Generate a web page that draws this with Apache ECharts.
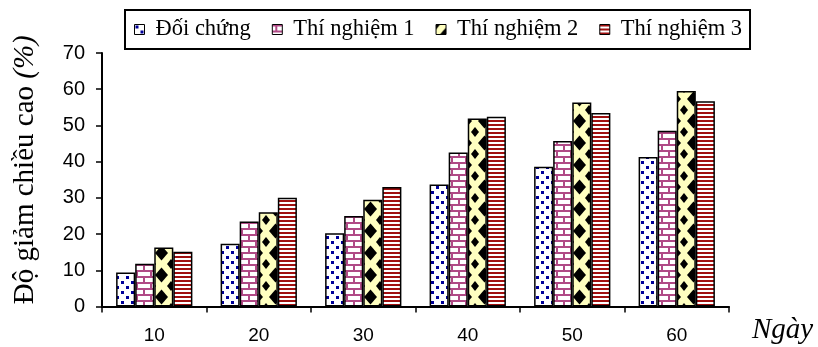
<!DOCTYPE html>
<html>
<head>
<meta charset="utf-8">
<script src="https://cdn.jsdelivr.net/npm/echarts@6/dist/echarts.min.js"></script>
<style>
  html, body { margin: 0; padding: 0; background: #fff; }
  #chart { width: 818px; height: 347px; }
</style>
</head>
<body>
<div id="chart"></div>
<script>
  // du lieu
  const days = ['10', '20', '30', '40', '50', '60'];
  const doiChung = [9.4, 17.3, 20.2, 33.7, 38.6, 41.3];
  const thiNghiem1 = [11.8, 23.5, 25, 42.5, 45.7, 48.5];
  const thiNghiem2 = [16.3, 26, 29.5, 51.9, 56.3, 59.5];
  const thiNghiem3 = [15.1, 30, 33, 52.4, 53.4, 56.7];

  // hoa van cho cot
  function makePattern(w, h, draw) {
    let c = document.createElement('canvas');
    c.width = w; c.height = h;
    let ctx = c.getContext('2d');
    draw(ctx, w, h);
    return { image: c, repeat: 'repeat' };
  }
  // cham xanh
  let dotPat = makePattern(10, 10, (ctx, w, h) => {
    ctx.fillStyle = '#fff'; ctx.fillRect(0, 0, w, h);
    ctx.fillStyle = '#000099';
    ctx.fillRect(1, 1, 3, 3);
    ctx.fillRect(6, 6, 3, 3);
  });
  // gach hong
  let brickPat = makePattern(14, 12, (ctx, w, h) => {
    ctx.fillStyle = '#fff'; ctx.fillRect(0, 0, w, h);
    ctx.fillStyle = '#b04a86';
    ctx.fillRect(0, 0, w, 2);
    ctx.fillRect(0, 6, w, 2);
    ctx.fillRect(3, 0, 2, 6);
    ctx.fillRect(10, 6, 2, 6);
  });
  // hinh thoi den tren nen vang
  function diamond(ctx, cx, cy, rx, ry) {
    ctx.beginPath();
    ctx.moveTo(cx, cy - ry); ctx.lineTo(cx + rx, cy); ctx.lineTo(cx, cy + ry); ctx.lineTo(cx - rx, cy);
    ctx.closePath(); ctx.fill();
  }
  let diamondPat = makePattern(19, 22, (ctx, w, h) => {
    ctx.fillStyle = '#ffffc0'; ctx.fillRect(0, 0, w, h);
    ctx.fillStyle = '#000';
    diamond(ctx, 9.5, 11, 6.5, 7.5);
    diamond(ctx, 0, 0, 4, 5);
    diamond(ctx, w, 0, 4, 5);
    diamond(ctx, 0, h, 4, 5);
    diamond(ctx, w, h, 4, 5);
  });
  // soc ngang do
  let stripePat = makePattern(8, 4, (ctx, w, h) => {
    ctx.fillStyle = '#fff'; ctx.fillRect(0, 0, w, h);
    ctx.fillStyle = '#a01010';
    ctx.fillRect(0, 0, w, 2);
  });

  function barSeries(name, data, pat) {
    return {
      name: name,
      type: 'bar',
      data: data,
      barGap: '0%',
      barCategoryGap: '27%',
      itemStyle: { color: pat, borderColor: '#000', borderWidth: 1.5 }
    };
  }

  let chart = echarts.init(document.getElementById('chart'));
  let option = {
    animation: false,
    textStyle: { fontFamily: 'Liberation Sans' },
    legend: {
      top: 10,
      left: 125,
      padding: [8, 8, 8, 9],
      borderColor: '#000',
      borderWidth: 2,
      itemWidth: 10,
      itemHeight: 10,
      itemGap: 21,
      icon: 'rect',
      textStyle: {
        fontFamily: 'Liberation Serif', fontSize: 22.5, color: '#000',
        padding: [0, 0, 0, 6]
      },
      itemStyle: { borderColor: '#000', borderWidth: 1 }
    },
    grid: { left: 102, right: 89, top: 53, bottom: 40.5 },
    xAxis: {
      type: 'category',
      data: days,
      name: 'Ngày',
      nameLocation: 'end',
      nameGap: 0,
      nameTextStyle: {
        fontFamily: 'Liberation Serif', fontStyle: 'italic', fontSize: 29, color: '#000',
        verticalAlign: 'top', align: 'left', padding: [9, 0, 0, 23]
      },
      axisLine: { lineStyle: { color: '#000', width: 2 } },
      axisTick: { show: true, length: 6, lineStyle: { color: '#000', width: 1.5 } },
      axisLabel: { color: '#000', fontSize: 19, margin: 20 }
    },
    yAxis: {
      type: 'value',
      min: 0,
      max: 70,
      interval: 10,
      name: '{a|Độ giảm chiều cao }{b|(%)}',
      nameLocation: 'middle',
      nameGap: 62,
      nameTextStyle: {
        padding: [0, 0, 0, 20],
        rich: {
          a: { fontFamily: 'Liberation Serif', fontSize: 29, color: '#000' },
          b: { fontFamily: 'Liberation Serif', fontSize: 29, fontStyle: 'italic', color: '#000' }
        }
      },
      splitLine: { show: false },
      axisLine: { show: true, lineStyle: { color: '#000', width: 2 } },
      axisTick: { show: true, length: 6, lineStyle: { color: '#000', width: 1.5 } },
      axisLabel: { color: '#000', fontSize: 20, margin: 17 }
    },
    series: [
      barSeries('Đối chứng', doiChung, dotPat),
      barSeries('Thí nghiệm 1', thiNghiem1, brickPat),
      barSeries('Thí nghiệm 2', thiNghiem2, diamondPat),
      barSeries('Thí nghiệm 3', thiNghiem3, stripePat)
    ]
  };
  chart.setOption(option);
</script>
</body>
</html>
